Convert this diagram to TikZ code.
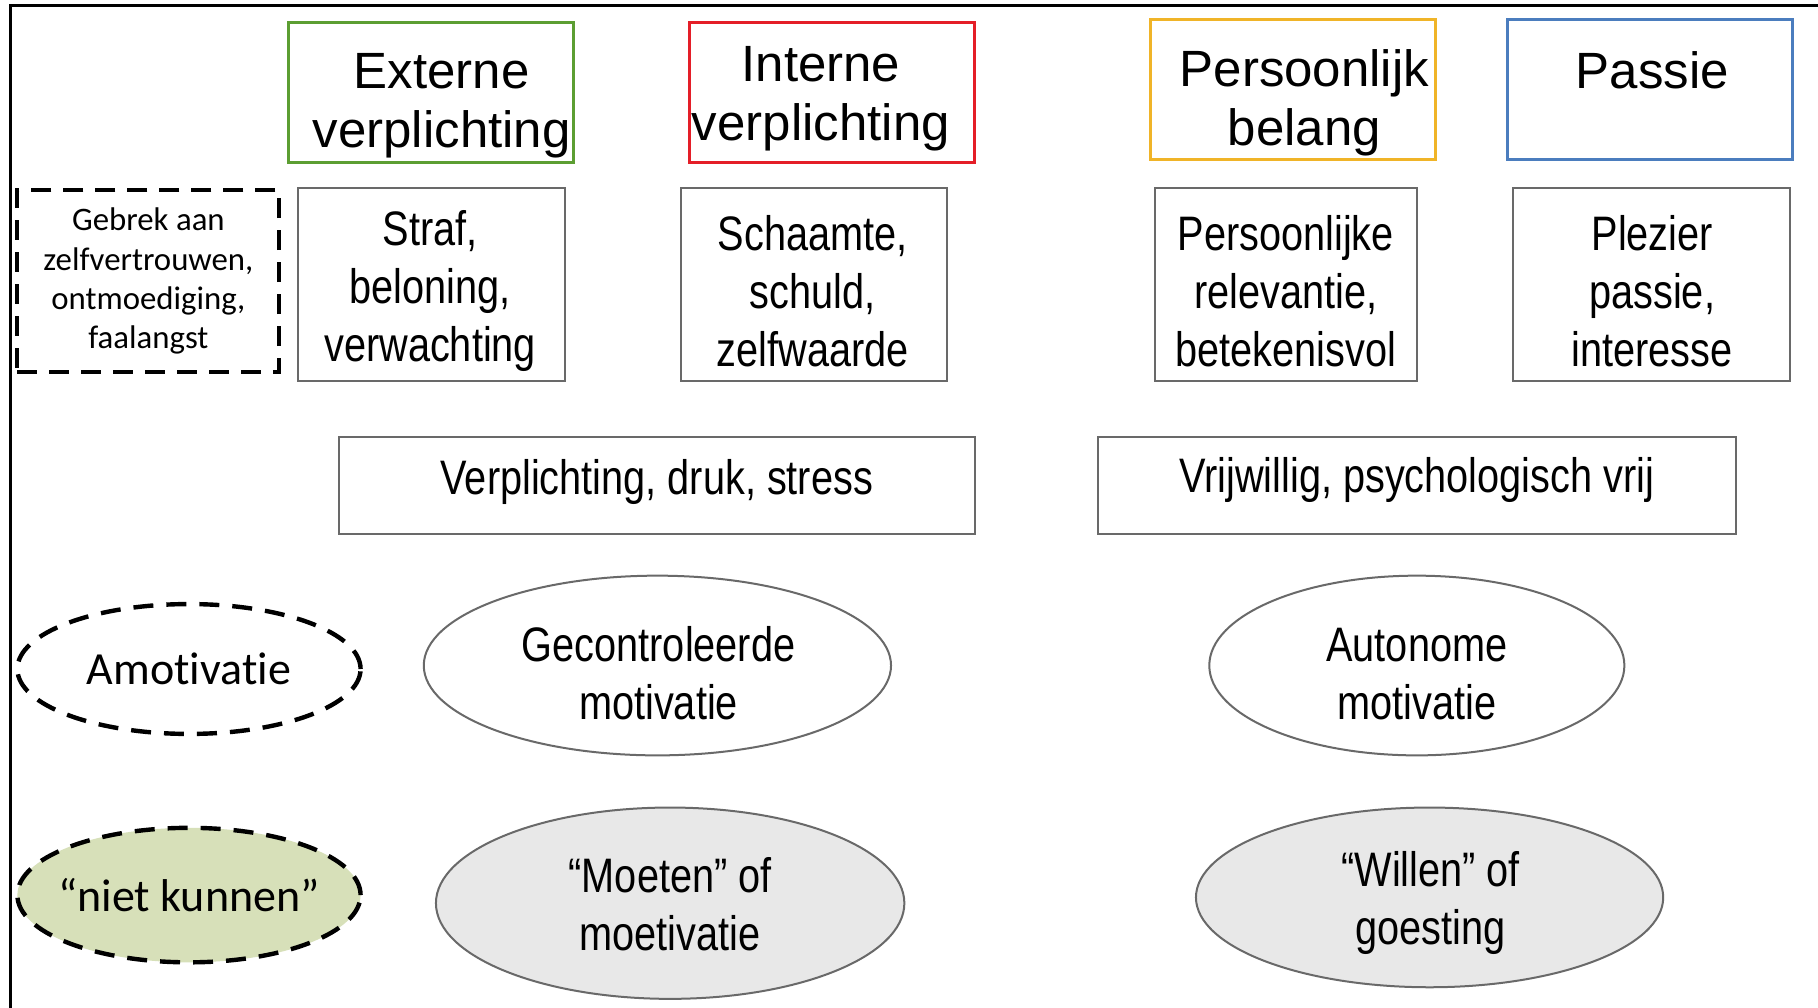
\documentclass[tikz,border=0pt]{standalone}
\usepackage{fontspec}
\setmainfont{Liberation Sans}
\newfontfamily\narrowf[FakeStretch=0.82]{Liberation Sans}
\newfontfamily\calibf[Ligatures=NoCommon]{Carlito}
\usetikzlibrary{shapes.geometric}
\newcommand\upx{0.5797pt}
\definecolor{cgreen}{RGB}{92,158,50}
\definecolor{cred}{RGB}{228,30,40}
\definecolor{cgold}{RGB}{240,180,40}
\definecolor{cblue}{RGB}{75,125,190}
\definecolor{cborder}{RGB}{105,105,105}
\definecolor{cgrayfill}{RGB}{232,232,232}
\definecolor{cgreenfill}{RGB}{215,224,185}
\begin{document}
\begin{tikzpicture}[x=0.5797pt,y=-0.5797pt,
  topbox/.style={draw=#1, line width=1.6pt, minimum width=246*\upx, minimum height=121*\upx, inner sep=0pt},
  toptext/.style={font=\fontsize{25.5}{29.5}\selectfont, align=center, inner sep=0pt},
  graybox/.style={draw=cborder, line width=1pt, inner sep=0pt},
  narrow/.style={font=\narrowf\fontsize{24.2}{29}\selectfont, align=center, inner sep=0pt},
  calib/.style={font=\calibf\fontsize{23}{27}\selectfont, align=center},
  dashbox/.style={draw=black, line width=2pt, dash pattern=on 10pt off 6pt, inner sep=0pt},
  oval/.style={ellipse, draw=cborder, line width=1pt, inner sep=0pt},
  dashoval/.style={ellipse, draw=black, line width=2.2pt, dash pattern=on 10pt off 6.5pt, inner sep=-30pt}
]
\useasboundingbox (0,0) rectangle (1568,869);
\fill[white] (0,0) rectangle (1568,869);
% frame
\draw[line width=1.3pt] (9,869) -- (9,5) -- (1568,5);

% row 1
\node[topbox=cgreen] (ext) at (371.5,80) {};
\node[toptext] (extT) at (381,91) {Externe\\verplichting};
\node[topbox=cred] (int) at (717.5,80) {};
\node[toptext] (intT) at (708,85) {Interne\\verplichting};
\node[topbox=cblue] (pas) at (1423,77) {};
\node[topbox=cgold] (pers) at (1115,77) {};
\node[toptext] (persT) at (1125,89) {Persoonlijk\\belang};
\node[toptext] (pasT) at (1425,61) {Passie};

% row 2
\node[dashbox, minimum width=226*\upx, minimum height=157*\upx,
      font=\calibf\fontsize{16.4}{19.7}\selectfont, align=center] (geb) at (128,242.5)
      {Gebrek aan\\zelfvertrouwen,\\ontmoediging,\\faalangst};
\node[graybox, minimum width=230*\upx, minimum height=167*\upx] (straf) at (372,245.5) {};
\node[narrow] (strafT) at (371,251) {Straf,\\beloning,\\verwachting};
\node[graybox, minimum width=230*\upx, minimum height=167*\upx] (scha) at (702,245.5) {};
\node[narrow] (schaT) at (701,251) {Schaamte,\\schuld,\\zelfwaarde};
\node[graybox, minimum width=226*\upx, minimum height=167*\upx] (rel) at (1109,245.5) {};
\node[narrow] (relT) at (1109,251) {Persoonlijke\\relevantie,\\betekenisvol};
\node[graybox, minimum width=239*\upx, minimum height=167*\upx] (plez) at (1424.5,245.5) {};
\node[narrow] (plezT) at (1425,251) {Plezier\\passie,\\interesse};

% row 3
\node[graybox, minimum width=549*\upx, minimum height=84*\upx] (verp) at (566.5,419) {};
\node[narrow] (verpT) at (566.5,416) {Verplichting, druk, stress};
\node[graybox, minimum width=550*\upx, minimum height=84*\upx] (vrij) at (1222,419) {};
\node[narrow] (vrijT) at (1222,414) {Vrijwillig, psychologisch vrij};

% row 4
\node[dashoval, calib, minimum width=296*\upx, minimum height=112*\upx] (amo) at (163,577) {Amotivatie};
\node[oval, minimum width=403*\upx, minimum height=155*\upx] (gec) at (567,574) {};
\node[narrow] (gecT) at (568,581) {Gecontroleerde\\motivatie};
\node[oval, minimum width=358*\upx, minimum height=155*\upx] (aut) at (1222,574) {};
\node[narrow] (autT) at (1222,581) {Autonome\\motivatie};

% row 5
\node[dashoval, calib, fill=cgreenfill, minimum width=296*\upx, minimum height=116*\upx] (niet) at (163,772) {“niet kunnen”};
\node[oval, fill=cgrayfill, minimum width=404*\upx, minimum height=165*\upx] (moe) at (578,779) {};
\node[narrow] (moeT) at (578,780) {“Moeten” of\\moetivatie};
\node[oval, fill=cgrayfill, minimum width=403*\upx, minimum height=155*\upx] (wil) at (1233,774) {};
\node[narrow] (wilT) at (1234,779) {“Willen” of\\goesting};
\end{tikzpicture}
\end{document}
